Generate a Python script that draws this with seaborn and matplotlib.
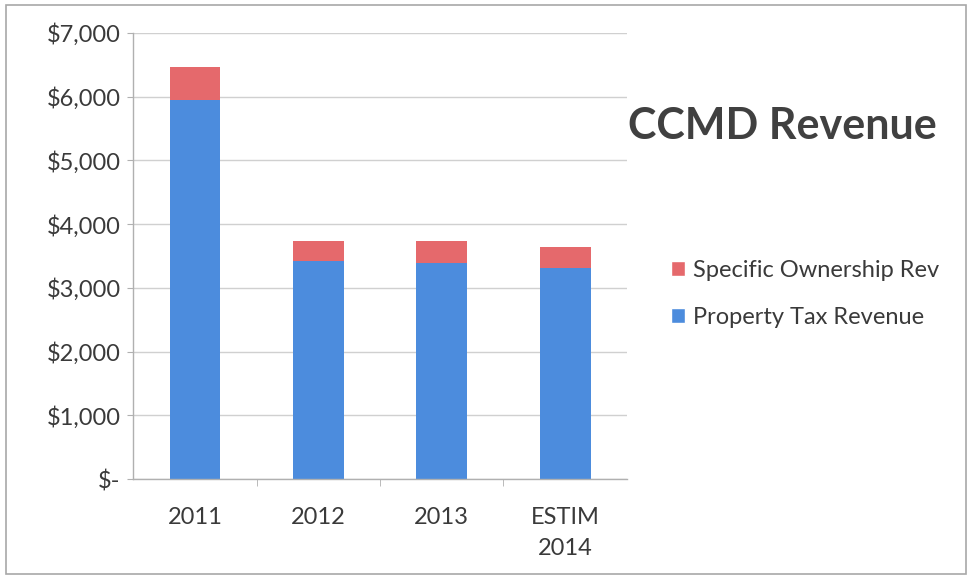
import matplotlib
matplotlib.use("Agg")
import matplotlib.pyplot as plt
import seaborn as sns
import pandas as pd
from matplotlib.ticker import FuncFormatter, FixedLocator
from matplotlib.patches import Patch, Rectangle

# Données
years = ["2011", "2012", "2013", "ESTIM\n2014"]
property_tax = [5950, 3420, 3385, 3305]
specific_ownership = [510, 315, 350, 340]

blue = "#4C8CDD"
red = "#E5696C"
text_col = "#3a3a3a"

df = pd.DataFrame({"year": years, "property": property_tax, "specific": specific_ownership})
df["total"] = df["property"] + df["specific"]

sns.set_style("white")
plt.rcParams["font.family"] = ["Lato", "DejaVu Sans"]

fig = plt.figure(figsize=(9.72, 5.79), dpi=100)
ax = fig.add_axes([0.137, 0.1727, 0.508, 0.7703])

# barres empilées : total en rouge, puis la taxe foncière en bleu par-dessus
sns.barplot(data=df, x="year", y="total", color=red, width=0.41, saturation=1, linewidth=0, ax=ax)
sns.barplot(data=df, x="year", y="property", color=blue, width=0.41, saturation=1, linewidth=0, ax=ax)

ax.set_ylim(0, 7000)
ax.set_xlim(-0.5, 3.5)
ax.set_yticks(range(0, 7001, 1000))
ax.yaxis.set_major_formatter(FuncFormatter(lambda v, p: "$-" if v == 0 else f"${v:,.0f}"))
ax.set_xlabel("")
ax.set_ylabel("")
ax.grid(axis="y", color="#d0d0d0", linewidth=1)
ax.set_axisbelow(True)

for s in ["top", "right"]:
    ax.spines[s].set_visible(False)
for s in ["left", "bottom"]:
    ax.spines[s].set_color("#b0b0b0")
    ax.spines[s].set_linewidth(1)

ax.tick_params(axis="y", labelsize=17, colors="#b0b0b0", labelcolor=text_col, length=4, direction="out", left=True, pad=5)
ax.tick_params(axis="x", labelsize=17, labelcolor=text_col, length=0, pad=20)
for lbl in ax.get_xticklabels():
    lbl.set_linespacing(1.6)
ax.xaxis.set_minor_locator(FixedLocator([0.5, 1.5, 2.5]))
ax.tick_params(axis="x", which="minor", length=5, color="#b0b0b0", bottom=True)

fig.text(0.805, 0.783, "CCMD Revenue", fontsize=31, fontweight="bold", color="#404040", ha="center", va="center")

handles = [Patch(facecolor=red, label="Specific Ownership Rev"),
           Patch(facecolor=blue, label="Property Tax Revenue")]
fig.legend(handles=handles, loc="center left", bbox_to_anchor=(0.668, 0.493), frameon=False,
           fontsize=17, handlelength=0.6, handleheight=0.6, handletextpad=0.35, labelspacing=1.1,
           labelcolor=text_col)

# cadre extérieur
fig.patches.append(Rectangle((0.006, 0.008), 0.988, 0.984, transform=fig.transFigure,
                             fill=False, edgecolor="#a8a8a8", linewidth=1.2))

fig.savefig("out.png", dpi=100)
